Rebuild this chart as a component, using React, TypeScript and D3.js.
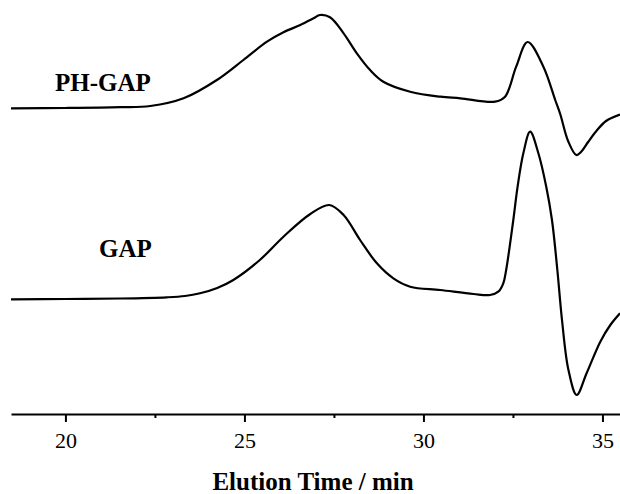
import React, { useEffect, useRef } from "react";
import * as d3 from "d3";

// elution time (min) and detector signal (arb. units, offset traces)
const phGapTime = [18.48, 20.0, 21.53, 22.37, 23.3, 24.23, 24.97, 25.63, 26.09, 26.56, 26.93, 27.11, 27.39, 27.77, 28.14, 28.51, 28.88, 29.63, 30.47, 31.03, 32.0, 32.28, 32.59, 32.91, 33.35, 33.68, 33.82, 34.04, 34.27, 34.4, 34.6, 34.83, 35.1, 35.49];
const phGapSignal = [305.7, 306, 306.8, 308, 315.7, 334, 354, 372.3, 381.7, 389, 395.7, 399, 396.7, 380.7, 360.7, 344, 332.3, 322.3, 317.3, 315.7, 312.3, 317.3, 347.3, 372, 347.3, 314, 300, 273, 259, 262, 272, 283, 293, 299.5];

const gapTime = [18.48, 20.0, 21.53, 22.83, 23.34, 23.76, 24.24, 24.69, 25.43, 26.09, 26.84, 27.37, 27.77, 28.23, 28.7, 29.16, 29.63, 30.47, 31.4, 31.86, 32.09, 32.23, 32.31, 32.51, 32.63, 32.79, 32.98, 33.21, 33.43, 33.59, 33.74, 33.87, 34.05, 34.28, 34.56, 34.94, 35.22, 35.49];
const gapSignal = [114.7, 115, 115.5, 116.7, 118, 120.7, 126, 134, 154, 177.3, 200, 209, 199, 174, 150.7, 135.7, 127.3, 124, 120, 119, 122.3, 130.7, 144, 194, 227.3, 260.7, 282.3, 260.7, 227.3, 194, 144, 94, 44, 19, 41, 72.3, 89, 100.7];

const majorTicks = [20, 25, 30, 35];
const minorTicks = [22.5, 27.5, 32.5];

const series = [
  { name: "PH-GAP", time: phGapTime, signal: phGapSignal, labelX: 19.71, labelY: 323.3 },
  { name: "GAP", time: gapTime, signal: gapSignal, labelX: 20.94, labelY: 156.7 },
];

const font = "'Liberation Serif', 'Times New Roman', serif";

const App = () => {
  const ref = useRef<SVGSVGElement>(null);

  useEffect(() => {
    const svg = d3.select(ref.current);
    svg.selectAll("*").remove();

    const x = d3.scaleLinear().domain([18.48, 35.49]).range([11, 620]);
    const y = d3.scaleLinear().domain([0, 414]).range([414, 0]);

    const line = d3
      .line<[number, number]>()
      .x((d) => x(d[0]))
      .y((d) => y(d[1]))
      .curve(d3.curveCatmullRom.alpha(0.5));

    series.forEach((s) => {
      const pts = s.time.map((t, i) => [t, s.signal[i]] as [number, number]);
      svg
        .append("path")
        .datum(pts)
        .attr("fill", "none")
        .attr("stroke", "#000")
        .attr("stroke-width", 2.2)
        .attr("stroke-linejoin", "round")
        .attr("d", line);

      svg
        .append("text")
        .attr("x", x(s.labelX))
        .attr("y", y(s.labelY))
        .attr("font-family", font)
        .attr("font-weight", "bold")
        .attr("font-size", 25)
        .text(s.name);
    });

    // minor ticks, no labels
    const minor = svg
      .append("g")
      .attr("transform", `translate(0,${y(0)})`)
      .call(d3.axisBottom(x).tickValues(minorTicks).tickSize(4).tickSizeOuter(0).tickFormat(() => ""));
    minor.select(".domain").remove();
    minor.selectAll("line").attr("stroke-width", 2);

    const axis = svg
      .append("g")
      .attr("transform", `translate(0,${y(0)})`)
      .call(d3.axisBottom(x).tickValues(majorTicks).tickSize(8).tickSizeOuter(0).tickPadding(10).tickFormat(d3.format("d")));
    axis.select(".domain").attr("stroke-width", 1.8);
    axis.selectAll("line").attr("stroke-width", 2);
    axis
      .selectAll("text")
      .attr("font-family", font)
      .attr("font-size", 22)
      .attr("fill", "#000");

    svg
      .append("text")
      .attr("x", 313)
      .attr("y", 490)
      .attr("text-anchor", "middle")
      .attr("font-family", font)
      .attr("font-weight", "bold")
      .attr("font-size", 25)
      .text("Elution Time / min");
  }, []);

  return (
    <svg
      ref={ref}
      width={620}
      height={494}
      style={{ position: "absolute", left: 0, top: 0, background: "#fff" }}
    />
  );
};

export default App;
